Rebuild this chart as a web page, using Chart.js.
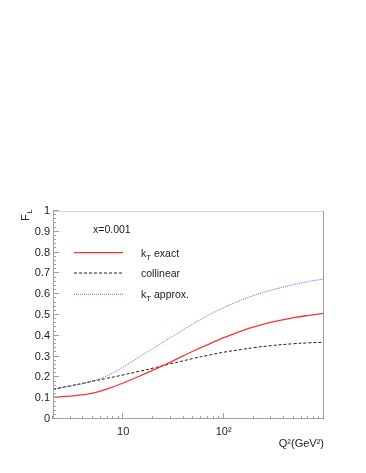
<!DOCTYPE html>
<html><head><meta charset="utf-8">
<script src="https://cdn.jsdelivr.net/npm/chart.js@4/dist/chart.umd.min.js"></script>
<style>html,body{margin:0;padding:0;background:#fff}canvas{display:block}</style>
</head><body>
<canvas id="c" width="366" height="473"></canvas>
<script>
// ---- data ----
const q2 = [2, 3, 4, 5, 7, 10, 15, 20, 30, 50, 70, 100, 150, 200, 300, 500, 700, 1000];
const flKtExact   = [0.105, 0.110, 0.117, 0.124, 0.145, 0.173, 0.209, 0.236, 0.275, 0.327, 0.358, 0.391, 0.423, 0.443, 0.466, 0.487, 0.498, 0.508];
const flCollinear = [0.143, 0.160, 0.172, 0.182, 0.196, 0.212, 0.231, 0.245, 0.266, 0.291, 0.306, 0.321, 0.334, 0.343, 0.353, 0.362, 0.366, 0.369];
const flKtApprox  = [0.143, 0.158, 0.170, 0.183, 0.209, 0.250, 0.303, 0.340, 0.393, 0.458, 0.498, 0.535, 0.572, 0.594, 0.620, 0.646, 0.661, 0.673];
const seriesLabels = ['k_T exact', 'collinear', 'k_T approx.'];
const annotation = 'x=0.001';
const xMajorLabels = {10: '10', 100: '10²'};
const xTitle = 'Q²(GeV²)';
const yTitleMain = 'F', yTitleSub = 'L';

const FONT = '"Liberation Sans", Arial, sans-serif';
const colors = ['rgb(255,50,50)', 'rgb(30,30,30)', 'rgb(100,100,255)'];
const dashes = [[], [3, 2], [1, 1]];
const widths = [1.3, 1, 1];

function pts(ys) { return q2.map((x, i) => ({x: x, y: ys[i]})); }

function drawSubText(ctx, str, x, y, size) {
  // "_X" -> subscript X
  const parts = str.split(/_(.)/);
  let cx = x;
  for (let i = 0; i < parts.length; i++) {
    if (i % 2 === 1) {
      ctx.font = (size * 0.75) + 'px ' + FONT;
      ctx.fillText(parts[i], cx, y + size * 0.32);
    } else {
      ctx.font = size + 'px ' + FONT;
      ctx.fillText(parts[i], cx, y);
    }
    cx += ctx.measureText(parts[i]).width;
  }
}

const decor = {
  id: 'decor',
  afterDraw(chart) {
    const ctx = chart.ctx, a = chart.chartArea;
    const xs = chart.scales.x, ys = chart.scales.y;
    ctx.save();
    // frame
    ctx.lineWidth = 1;
    ctx.strokeStyle = '#d8d8d8';
    ctx.beginPath(); ctx.moveTo(a.left, a.top + 0.5); ctx.lineTo(a.right, a.top + 0.5); ctx.stroke();
    ctx.strokeStyle = '#a0a0a0';
    ctx.beginPath(); ctx.moveTo(a.right - 0.5, a.top); ctx.lineTo(a.right - 0.5, a.bottom); ctx.stroke();
    ctx.beginPath(); ctx.moveTo(a.left + 0.5, a.top); ctx.lineTo(a.left + 0.5, a.bottom); ctx.stroke();
    ctx.beginPath(); ctx.moveTo(a.left, a.bottom - 0.5); ctx.lineTo(a.right, a.bottom - 0.5); ctx.stroke();
    // y ticks (inside)
    for (let k = 0; k <= 50; k++) {
      const v = k / 50;
      const py = Math.round(ys.getPixelForValue(v)) - 0.5;
      const len = (k % 5 === 0) ? 6 : 3;
      ctx.beginPath(); ctx.moveTo(a.left, py); ctx.lineTo(a.left + len, py); ctx.stroke();
    }
    // x ticks (inside), log minor ticks
    for (let dec = 1; dec <= 1000; dec *= 10) {
      for (let m = 1; m <= 9; m++) {
        const v = m * dec;
        if (v < 2 || v > 1000) continue;
        const px = Math.round(xs.getPixelForValue(v)) - 0.5;
        const len = (m === 1) ? 6 : 3;
        ctx.beginPath(); ctx.moveTo(px, a.bottom); ctx.lineTo(px, a.bottom - len); ctx.stroke();
      }
    }
    // annotation + legend
    ctx.fillStyle = '#222';
    ctx.textBaseline = 'alphabetic';
    ctx.font = '10.5px ' + FONT;
    ctx.fillText(annotation, 93, 232.5);
    const ly = [252.7, 273, 294.3];
    for (let i = 0; i < 3; i++) {
      ctx.strokeStyle = colors[i];
      ctx.lineWidth = widths[i];
      ctx.setLineDash(dashes[i]);
      ctx.beginPath(); ctx.moveTo(74, ly[i]); ctx.lineTo(123, ly[i]); ctx.stroke();
      ctx.setLineDash([]);
      ctx.fillStyle = '#222';
      drawSubText(ctx, seriesLabels[i], 141, ly[i] + 3.8, 10.5);
    }
    // x title
    ctx.font = '11px ' + FONT;
    ctx.textAlign = 'right';
    ctx.fillText(xTitle, a.right, 447);
    // y title rotated
    ctx.textAlign = 'left';
    ctx.translate(28.5, 221);
    ctx.rotate(-Math.PI / 2);
    ctx.font = '11px ' + FONT;
    ctx.fillText(yTitleMain, 0, 0);
    const fw = ctx.measureText(yTitleMain).width;
    ctx.font = '8px ' + FONT;
    ctx.fillText(yTitleSub, fw + 0.5, 3.5);
    ctx.restore();
  }
};

new Chart(document.getElementById('c'), {
  type: 'line',
  data: {
    datasets: [flKtExact, flCollinear, flKtApprox].map((d, i) => ({
      label: seriesLabels[i],
      data: pts(d),
      borderColor: colors[i],
      borderWidth: widths[i],
      borderDash: dashes[i],
      pointRadius: 0,
      fill: false,
      tension: 0.4
    }))
  },
  options: {
    responsive: false,
    animation: false,
    layout: {padding: {left: 0, right: 42, top: 211, bottom: 0}},
    plugins: {legend: {display: false}, tooltip: {enabled: false}},
    scales: {
      x: {
        type: 'logarithmic', min: 2, max: 1000,
        grid: {display: false, drawTicks: false},
        border: {display: false},
        afterBuildTicks(s) { s.ticks = [{value: 10}, {value: 100}]; },
        afterFit(s) { s.height = 54; },
        ticks: {
          autoSkip: false, maxRotation: 0, padding: 6, color: '#222',
          font: {family: FONT, size: 11},
          callback: (v) => xMajorLabels[v] || ''
        }
      },
      y: {
        min: 0, max: 1,
        grid: {display: false, drawTicks: false},
        border: {display: false},
        afterFit(s) { s.width = 53; },
        ticks: {
          stepSize: 0.1, padding: 3, color: '#222',
          font: {family: FONT, size: 11},
          callback: (v) => String(Math.round(v * 10) / 10)
        }
      }
    }
  },
  plugins: [decor]
});
</script>
</body></html>
